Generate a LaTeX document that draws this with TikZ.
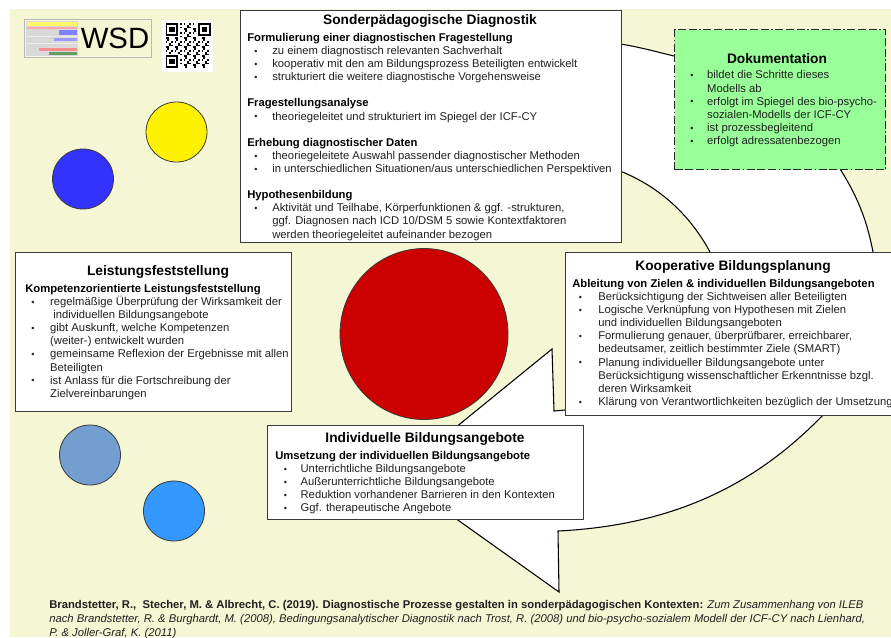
\documentclass[tikz,border=0pt]{standalone}
\usepackage{fontspec}
\setmainfont{Liberation Sans}
\definecolor{bgy}{HTML}{F5F6D3}
\definecolor{edge}{HTML}{3A3A3A}
\definecolor{txt}{HTML}{202020}
\definecolor{docg}{HTML}{99FF99}
\newcommand{\bodyfont}{\fontsize{8.45}{9.83}\selectfont}
\newcommand{\blt}[2]{\hspace*{#1pt}\makebox[#2pt][l]{\raisebox{0.2pt}{\scalebox{0.8}{•}}}}
\newcommand{\hd}[1]{\textbf{\textcolor{black}{#1}}}
\tikzset{
  x=0.75pt,y=-0.75pt,
  box/.style={draw=edge,line width=1.1pt,fill=white,rectangle,anchor=north west,inner sep=0pt},
  body/.style={anchor=north west,inner sep=0pt,align=left,text=txt,font=\bodyfont},
  ttl/.style={inner sep=0pt,font=\fontsize{10.3}{12}\selectfont\bfseries,text=black},
  disc/.style={draw=edge,line width=0.6pt,ellipse},
}
\usetikzlibrary{shapes.geometric}
\begin{document}
\begin{tikzpicture}
\useasboundingbox (0,0) rectangle (891,637);
\clip (0,0) rectangle (891,637);
\fill[bgy] (10,9) rectangle (891,637);
% discs
\node[disc,fill=yellow,minimum width=61*0.75pt,minimum height=60*0.75pt,inner sep=0pt] (d1) at (176.5,132) {};
\node[disc,fill={rgb,255:red,51;green,51;blue,255},minimum width=61*0.75pt,minimum height=60*0.75pt,inner sep=0pt] (d2) at (83,179) {};
\node[disc,fill={rgb,255:red,114;green,159;blue,207},minimum width=61*0.75pt,minimum height=60*0.75pt,inner sep=0pt] (d3) at (90,455) {};
\node[disc,fill={rgb,255:red,51;green,153;blue,255},minimum width=61*0.75pt,minimum height=60*0.75pt,inner sep=0pt] (d4) at (174,511) {};
\node[disc,fill={rgb,255:red,204;green,0;blue,0},minimum width=168*0.75pt,minimum height=171*0.75pt,inner sep=0pt] (red) at (424,334) {};
% circular arrow
\draw[fill=white,draw=black,line width=0.8pt,line join=miter]
  (600,40) -- (620,44) .. controls (640,47) and (657,52) .. (674,56)
  .. controls (760,85) and (815,125) .. (840,169)
  .. controls (860,200) and (868,226) .. (873,252)
  .. controls (885,320) and (860,375) .. (823,415)
  .. controls (760,480) and (680,525) .. (558,531)
  -- (559,592) -- (396,476) -- (552,349) -- (554,411) -- (565,410)
  -- (620,300) -- (710,252)
  .. controls (690,215) and (660,187) .. (620,171)
  -- (600,165) -- cycle;
% WSD logo
\node[rectangle,draw={rgb,255:red,185;green,185;blue,185},line width=0.8pt,fill=bgy,anchor=north west,minimum width=127*0.75pt,minimum height=38*0.75pt,inner sep=0pt] (logo) at (24,19) {};
\fill[gray!30] (26,21) rectangle (78,56);
\fill[yellow!60!white] (27,22) rectangle (77,25.5);
\fill[red!35!white] (27,26.5) rectangle (77,29);
\fill[blue!50!white] (59,29.5) rectangle (77,35);
\fill[blue!40!white] (54,38) rectangle (77,41);
\fill[white!85!gray] (27,36) rectangle (77,37);
\fill[white!85!gray] (27,43) rectangle (77,44);
\fill[red!45!white] (39,48) rectangle (77,51);
\fill[green!25!gray] (49,52) rectangle (77,55);
\node[inner sep=0pt,font=\fontsize{22}{26}\selectfont,text=black] (wsd) at (115,38) {WSD};
% QR
\node[rectangle,fill=white,anchor=north west,minimum width=51*0.75pt,minimum height=52*0.75pt,inner sep=0pt] (qrbg) at (162,20) {};
\begin{scope}[shift={(165.5,23)}]
\foreach \i in {0,...,24}{\foreach \j in {0,...,24}{
  \pgfmathparse{int(mod(\i*\i*3+\j*\j*5+\i*\j*7+\i+2*\j,5))}
  \ifnum\pgfmathresult<2
  \fill[black] (\i*1.8,\j*1.8) rectangle ++(1.8,1.8);
  \fi}}
\foreach \a/\b in {0/0,18/0,0/18}{
  \fill[white] (\a*1.8-1.8,\b*1.8-1.8) rectangle ++(9*1.8,9*1.8);
  \fill[black] (\a*1.8,\b*1.8) rectangle ++(7*1.8,7*1.8);
  \fill[white] (\a*1.8+1.8,\b*1.8+1.8) rectangle ++(5*1.8,5*1.8);
  \fill[black] (\a*1.8+3.6,\b*1.8+3.6) rectangle ++(3*1.8,3*1.8);
}
\end{scope}
\fill[white] (162,20) rectangle (165.5,72);
\fill[white] (162,20) rectangle (213,23);
% Sonderpaed
\node[box,minimum width=381*0.75pt,minimum height=232.5*0.75pt] (sp) at (239.5,9.5) {};
\node[ttl] (spt) at (430,20.5) {Sonderpädagogische Diagnostik};
\node[body] (spb) at (247,33) {\hd{Formulierung einer diagnostischen Fragestellung}\\
\blt{5.3}{13.5}zu einem diagnostisch relevanten Sachverhalt\\
\blt{5.3}{13.5}kooperativ mit den am Bildungsprozess Beteiligten entwickelt\\
\blt{5.3}{13.5}strukturiert die weitere diagnostische Vorgehensweise\\
\mbox{}\\
\hd{Fragestellungsanalyse}\\
\blt{5.3}{13.5}theoriegeleitet und strukturiert im Spiegel der ICF-CY\\
\mbox{}\\
\hd{Erhebung diagnostischer Daten}\\
\blt{5.3}{13.5}theoriegeleitete Auswahl passender diagnostischer Methoden\\
\blt{5.3}{13.5}in unterschiedlichen Situationen/aus unterschiedlichen Perspektiven\\
\mbox{}\\
\hd{Hypothesenbildung}\\
\blt{5.3}{13.5}Aktivität und Teilhabe, Körperfunktionen \& ggf. -strukturen,\\
\hspace*{18.8pt}ggf. Diagnosen nach ICD 10/DSM 5 sowie Kontextfaktoren\\
\hspace*{18.8pt}werden theoriegeleitet aufeinander bezogen};
% Doku
\node[rectangle,anchor=north west,inner sep=0pt,draw=black!85,fill=docg,line width=1pt,dash pattern=on 6pt off 2pt on 6pt off 2pt on 6pt off 2pt on 1pt off 2pt,minimum width=211*0.75pt,minimum height=140*0.75pt] (doc) at (674,29) {};
\node[ttl] (doct) at (777,58.5) {Dokumentation};
\node[body] (docb) at (684,70.5) {\blt{4.5}{12.7}bildet die Schritte dieses\\
\hspace*{17.2pt}Modells ab\\
\blt{4.5}{12.7}erfolgt im Spiegel des bio-psycho-\\
\hspace*{17.2pt}sozialen-Modells der ICF-CY\\
\blt{4.5}{12.7}ist prozessbegleitend\\
\blt{4.5}{12.7}erfolgt adressatenbezogen};
% Leistung
\node[box,minimum width=276*0.75pt,minimum height=159*0.75pt] (lf) at (15,252) {};
\node[ttl] (lft) at (158,272) {Leistungsfeststellung};
\node[body] (lfb) at (25,284) {\hd{Kompetenzorientierte Leistungsfeststellung}\\
\blt{4.5}{14.2}regelmäßige Überprüfung der Wirksamkeit der\\
\hspace*{21pt}individuellen Bildungsangebote\\
\blt{4.5}{14.2}gibt Auskunft, welche Kompetenzen\\
\hspace*{18.7pt}(weiter-) entwickelt wurden\\
\blt{4.5}{14.2}gemeinsame Reflexion der Ergebnisse mit allen\\
\hspace*{18.7pt}Beteiligten\\
\blt{4.5}{14.2}ist Anlass für die Fortschreibung der\\
\hspace*{18.7pt}Zielvereinbarungen};
% Kooperativ
\node[box,minimum width=340*0.75pt,minimum height=163*0.75pt] (kb) at (565,252) {};
\node[ttl] (kbt) at (733,267) {Kooperative Bildungsplanung};
\node[body] (kbb) at (572,279) {\hd{Ableitung von Zielen \& individuellen Bildungsangeboten}\\
\blt{5}{14.5}Berücksichtigung der Sichtweisen aller Beteiligten\\
\blt{5}{14.5}Logische Verknüpfung von Hypothesen mit Zielen\\
\hspace*{19.5pt}und individuellen Bildungsangeboten\\
\blt{5}{14.5}Formulierung genauer, überprüfbarer, erreichbarer,\\
\hspace*{19.5pt}bedeutsamer, zeitlich bestimmter Ziele (SMART)\\
\blt{5}{14.5}Planung individueller Bildungsangebote unter\\
\hspace*{19.5pt}Berücksichtigung wissenschaftlicher Erkenntnisse bzgl.\\
\hspace*{19.5pt}deren Wirksamkeit\\
\blt{5}{14.5}Klärung von Verantwortlichkeiten bezüglich der Umsetzung};
% Individuell
\node[box,minimum width=316*0.75pt,minimum height=94*0.75pt] (ib) at (267,425) {};
\node[ttl] (ibt) at (425,439) {Individuelle Bildungsangebote};
\node[body] (ibb) at (275,451) {\hd{Umsetzung der individuellen Bildungsangebote}\\
\blt{6.5}{12.5}Unterrichtliche Bildungsangebote\\
\blt{6.5}{12.5}Außerunterrichtliche Bildungsangebote\\
\blt{6.5}{12.5}Reduktion vorhandener Barrieren in den Kontexten\\
\blt{6.5}{12.5}Ggf. therapeutische Angebote};
% citation
\node[anchor=north west,inner sep=0pt,align=left,font=\fontsize{8.45}{10.5}\selectfont,text=txt] (cite) at (49,600) {\textbf{Brandstetter, R.,\ \ Stecher, M. \& Albrecht, C. (2019). Diagnostische Prozesse gestalten in sonderpädagogischen Kontexten:} \textit{Zum Zusammenhang von ILEB}\\
\textit{nach Brandstetter, R. \& Burghardt, M. (2008), Bedingungsanalytischer Diagnostik nach Trost, R. (2008) und bio-psycho-sozialem Modell der ICF-CY nach Lienhard,}\\
\textit{P. \& Joller-Graf, K. (2011)}};
\end{tikzpicture}
\end{document}
